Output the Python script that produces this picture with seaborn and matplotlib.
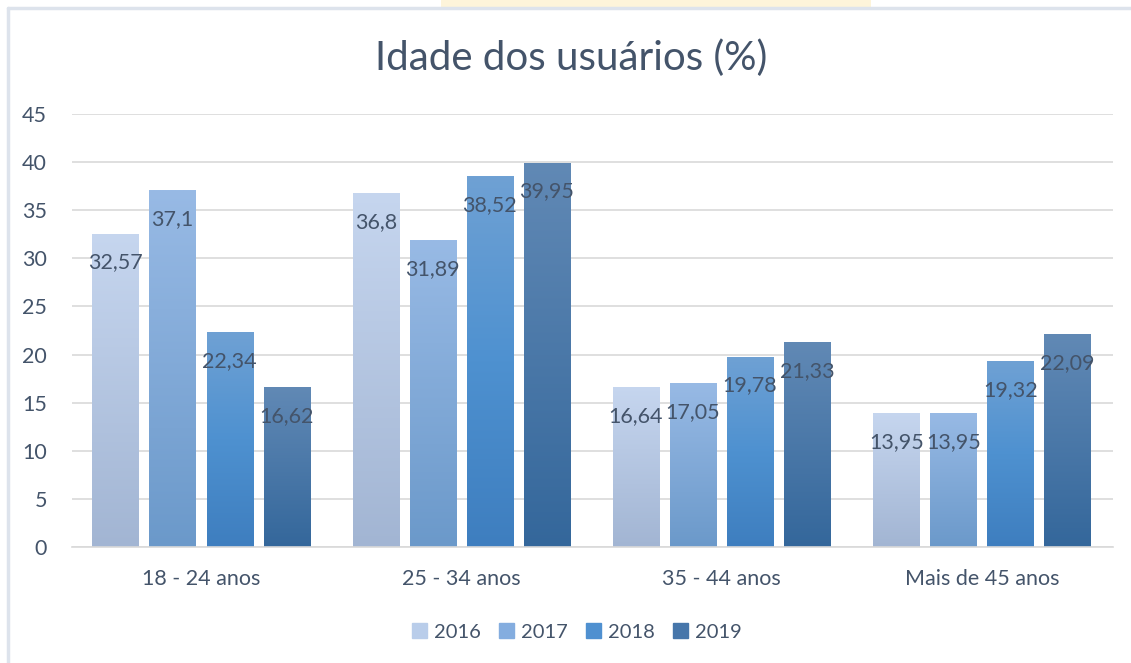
import numpy as np
import pandas as pd
import matplotlib
matplotlib.use("Agg")
import matplotlib.pyplot as plt
from matplotlib.colors import LinearSegmentedColormap
from matplotlib.patches import Rectangle
import seaborn as sns

# data
faixas = ["18 - 24 anos", "25 - 34 anos", "35 - 44 anos", "Mais de 45 anos"]
anos = ["2016", "2017", "2018", "2019"]
v2016 = [32.57, 36.8, 16.64, 13.95]
v2017 = [37.1, 31.89, 17.05, 13.95]
v2018 = [22.34, 38.52, 19.78, 19.32]
v2019 = [16.62, 39.95, 21.33, 22.09]

df = pd.DataFrame({
    "faixa": faixas * 4,
    "ano": [a for a in anos for _ in faixas],
    "valor": v2016 + v2017 + v2018 + v2019,
})

# gradient colours (top -> bottom) per year, plus a flat one for the legend
grad = {
    "2016": ["#c6d6ef", "#a2b5d3"],
    "2017": ["#98bae5", "#6b99ca"],
    "2018": ["#6fa1d4", "#4e91d0", "#3e7ebf"],
    "2019": ["#6189b5", "#34679b"],
}
flat = {"2016": "#b9cdea", "2017": "#84addf", "2018": "#4f90d0", "2019": "#4676aa"}

sns.set_theme(style="white")
plt.rcParams["font.family"] = ["Lato", "DejaVu Sans"]
txt = "#44546a"

fig = plt.figure(figsize=(11.31, 6.63), dpi=100)
ax = fig.add_axes([0.0637, 0.175, 0.9203, 0.653])

sns.barplot(data=df, x="faixa", y="valor", hue="ano", order=faixas,
            hue_order=anos, palette=flat, width=0.877, gap=0.19,
            legend=False, ax=ax)

ax.set_yticks(range(0, 46, 5))
ax.yaxis.grid(True, color="#d9d9d9", lw=1.2)
ax.set_axisbelow(True)
for s in ["left", "right", "top"]:
    ax.spines[s].set_visible(False)
ax.spines["bottom"].set_color("#d9d9d9")
ax.spines["bottom"].set_linewidth(1.2)
ax.tick_params(axis="both", length=0, labelsize=15.5, colors=txt)
ax.tick_params(axis="y", pad=18)
ax.tick_params(axis="x", pad=16)
ax.set_xlabel("")
ax.set_ylabel("")

# gradient fill + labels
for ci, ano in enumerate(anos):
    cmap = LinearSegmentedColormap.from_list(ano, grad[ano][::-1])
    cont = ax.containers[ci]
    for bar, val in zip(cont.patches, df[df.ano == ano].valor):
        x0 = bar.get_x()
        w = bar.get_width()
        h = bar.get_height()
        im = ax.imshow(np.linspace(0, 1, 256).reshape(-1, 1), cmap=cmap,
                       aspect="auto", origin="lower",
                       extent=[x0, x0 + w, 0, h], zorder=bar.get_zorder())
        im.set_clip_path(bar)
        bar.set_facecolor("none")
        bar.set_edgecolor("none")
        ax.text(x0 + w / 2, h - 3.0, f"{val:g}".replace(".", ","),
                ha="center", va="center", fontsize=15.5, color=txt, zorder=5)
ax.set_xlim(-0.496, 3.504)
ax.set_ylim(0, 45)

fig.text(0.505, 0.912, "Idade dos usuários (%)", ha="center", va="center",
         fontsize=29, color=txt)

# legend
handles = [Rectangle((0, 0), 1, 1, color=flat[a]) for a in anos]
fig.legend(handles, anos, loc="center", bbox_to_anchor=(0.51, 0.047), ncol=4,
           frameon=False, fontsize=14.5, labelcolor=txt, handlelength=0.75,
           handleheight=0.75, handletextpad=0.35, columnspacing=0.9)

# frame lines and top decoration
fig.add_artist(plt.Line2D([0.0075, 0.0075], [0, 0.988], color="#dde3ec", lw=2.5))
fig.add_artist(plt.Line2D([0.0075, 1], [0.988, 0.988], color="#dde3ec", lw=2.5))
fig.add_artist(Rectangle((0.39, 0.99), 0.38, 0.01, transform=fig.transFigure,
                         color="#fdf4da", lw=0))

fig.savefig("out.png", dpi=100)
